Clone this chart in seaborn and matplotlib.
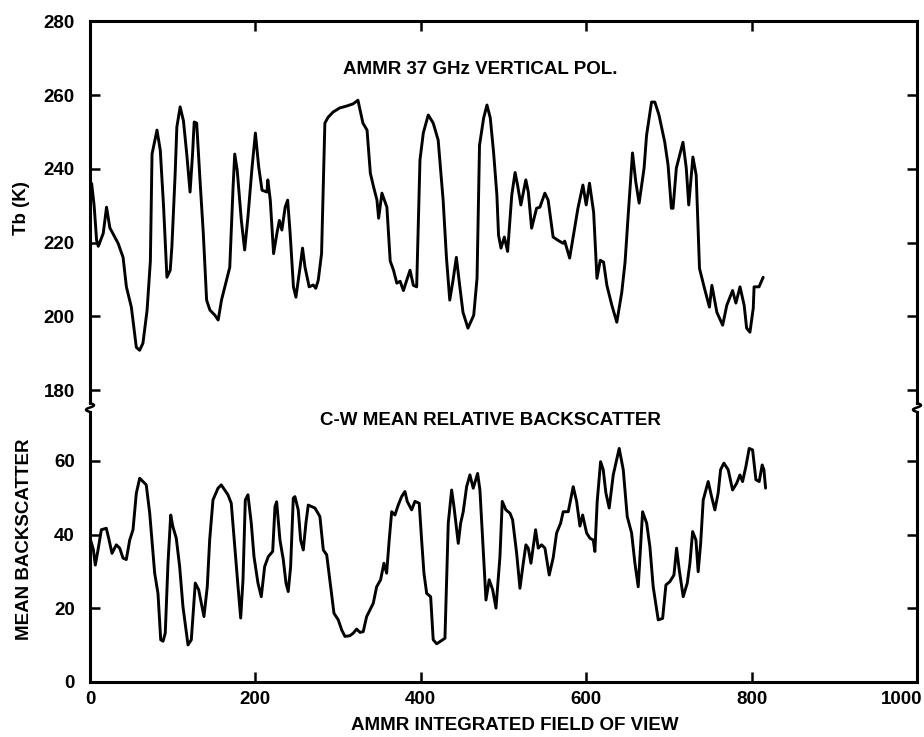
import numpy as np
import pandas as pd
import matplotlib
matplotlib.use("Agg")
import matplotlib.pyplot as plt
from matplotlib.lines import Line2D
from matplotlib.transforms import ScaledTranslation
import seaborn as sns

# ---- data ----
tb_x = [0, 2, 5, 8, 10, 16, 20, 24, 34, 40, 44, 50, 56, 60, 64, 69, 73, 75, 81, 85,
        89, 93, 97, 99, 103, 105, 109, 113, 117, 121, 124, 126, 129, 133, 137, 141, 145,
        151, 155, 159, 165, 169, 173, 175, 178, 183, 187, 191, 196, 200, 204, 208, 214,
        215, 218, 222, 226, 229, 232, 236, 239, 242, 246, 249, 254, 257, 260, 265, 270,
        273, 276, 280, 284, 288, 294, 302, 310, 318, 324, 330, 335, 339, 343, 347, 349,
        353, 359, 363, 367, 371, 375, 379, 383, 387, 391, 395, 399, 403, 409, 415, 421,
        427, 431, 435, 439, 443, 447, 451, 457, 464, 468, 471, 476, 480, 484, 488, 492,
        494, 497, 501, 505, 510, 514, 517, 521, 527, 530, 534, 540, 544, 550, 554, 560,
        566, 572, 574, 580, 584, 590, 596, 600, 604, 609, 613, 617, 621, 625, 631, 637,
        643, 647, 651, 656, 660, 664, 670, 673, 679, 683, 688, 695, 699, 703, 705, 709,
        717, 721, 724, 729, 733, 737, 743, 749, 752, 758, 765, 770, 777, 781, 786, 791,
        794, 798, 802, 803, 809, 814]
tb_val = [233, 236, 230, 220.6, 219, 222.5, 229.6, 224, 219.8, 216, 208, 202.5, 191.6,
          190.8, 192.7, 201.6, 215, 244, 250.5, 245, 229.6, 210.6, 212.5, 218.8, 238.8,
          251.3, 256.8, 253, 244, 233.7, 244, 252.7, 252.4, 237, 222.5, 204.4, 201.7,
          200.3, 199, 204.4, 209.8, 213.3, 235, 244, 239.6, 226, 218, 227, 240.5, 249.7,
          240.5, 234.2, 233.7, 237, 231.5, 217, 222.5, 226, 223.4, 229.6, 231.5, 222.5,
          208, 205.2, 213.3, 218.5, 213.3, 208, 208.5, 207.6, 209.8, 217, 252.4, 254,
          255.4, 256.5, 257, 257.6, 258.6, 252.4, 250.5, 238.8, 235, 231.5, 226.6, 233.4,
          229.6, 215, 212.5, 209, 209.5, 207, 209.8, 212.5, 208.4, 208, 242.4, 249.7,
          254.6, 252.4, 247.8, 231.5, 216, 204.4, 209.8, 216, 208.4, 201.1, 196.8, 200.3,
          210.3, 246.4, 253.8, 257.3, 253.8, 244.5, 232.9, 222, 218.5, 221.5, 217.6,
          232.9, 239, 235.6, 230.2, 237, 233.7, 223.9, 229.3, 229.6, 233.4, 231.5, 221.5,
          220.6, 219.8, 220.4, 215.8, 221.2, 229.3, 235.6, 230.2, 236.1, 228.2, 210.3,
          215.2, 214.7, 208.4, 203, 198.4, 206.5, 214.7, 228.2, 244.3, 236.4, 230.7,
          240.2, 249.1, 258.1, 258.1, 254.6, 247.2, 241, 229.3, 229.3, 240.2, 247.2,
          240.2, 230.2, 243.2, 238.3, 213, 207.6, 202.5, 208.4, 201.1, 197.6, 203, 207,
          203.6, 208, 203, 196.8, 195.7, 202.2, 208, 208, 210.6]

bs_x = [0, 4, 6.4, 9.7, 13.7, 19.7, 22.6, 26.6, 31.8, 35.9, 39.9, 43.9, 48, 52, 56, 60.1,
        68, 72.2, 78.2, 82.2, 85.5, 88.3, 91, 94.3, 97.6, 100.3, 104.3, 108.4, 112.4,
        118.5, 122.5, 127.3, 131.4, 137.8, 141.8, 144.7, 148.7, 154.8, 158.7, 166.8,
        170.8, 175, 179, 182.2, 185, 187.8, 191, 195, 198.3, 203.1, 207.1, 211.2, 215.6,
        220.9, 223.7, 225.7, 229.7, 233.7, 237, 239.7, 242.6, 245.8, 247.8, 251.8, 254.7,
        257.9, 261.1, 263.9, 272, 278, 282.1, 286.2, 291, 295, 300.2, 304.3, 308.3, 314.3,
        318.3, 322.4, 326.4, 330.4, 334.5, 342.5, 346.6, 351.4, 355.4, 358.7, 361.8,
        364.8, 368.7, 372.7, 376.8, 380.8, 383.6, 388.9, 392.9, 398.1, 401, 403.8, 407.1,
        411.9, 415, 419.2, 429.2, 433.2, 437.3, 440.1, 445.3, 448.2, 451.3, 455.4, 459.4,
        463.4, 468.7, 471.5, 475.5, 478.8, 482.7, 486.9, 490.9, 495.7, 498.5, 502.9,
        507.8, 511, 515.9, 519.9, 523.9, 527.1, 529.9, 533.2, 538.8, 542, 546.1, 550.1,
        555.3, 560.1, 564.2, 569.1, 572.2, 578.3, 584.3, 588.4, 592.4, 595.7, 600.5,
        604.5, 608.5, 610.5, 613.3, 617.4, 620.6, 623.8, 627.8, 632.7, 639.9, 644.8,
        649.6, 654.9, 658.9, 662.9, 668.2, 673.1, 677, 681, 687.1, 692.4, 696.4, 701.2,
        706.1, 709.3, 712.5, 717.3, 722.2, 725.4, 728.7, 732.7, 735.4, 738.4, 741.5,
        747.5, 751.6, 755.6, 759.6, 762.5, 766.5, 771.7, 777, 781.9, 785.9, 789.1, 793.1,
        797.1, 801.2, 805.2, 809.2, 812.8, 814.9, 816.9]
bs_val = [39, 36, 31.7, 35.8, 41.3, 41.7, 39, 34.9, 37.2, 36.3, 33.6, 33.2, 38.5, 41.3,
          51.2, 55.3, 53.5, 45.8, 29.5, 24, 11.4, 11, 13.2, 32.2, 45.3, 42.1, 39, 31.3,
          20.4, 10, 11.4, 26.8, 25, 17.7, 25.8, 38.5, 49.4, 52.6, 53.5, 50.8, 48.5, 36.7,
          25.8, 17.3, 27.7, 49.4, 50.8, 43.1, 34, 26.8, 23.1, 31.3, 34, 35.4, 47.6, 48.9,
          38.5, 33.2, 26.8, 24.5, 31.3, 49.9, 50.3, 46.7, 38.5, 35.8, 43.1, 48, 47.2,
          44.9, 35.8, 34.5, 25.8, 18.6, 16.8, 14.1, 12.3, 12.5, 13.2, 14.3, 13.4, 13.6,
          17.7, 21.3, 25.8, 27.7, 32.2, 29.5, 38.5, 46.2, 45.3, 48, 50.3, 51.7, 49, 46.7,
          49, 48.5, 38.5, 29.5, 24, 23.1, 11.4, 10.3, 11.8, 43.1, 52.1, 47.6, 37.6, 43.1,
          46.2, 53, 56.2, 52.6, 56.6, 52.1, 35.8, 22.2, 27.7, 25, 20, 34, 49, 46.7, 45.8,
          44, 34.9, 25.4, 32.2, 37.2, 36.3, 32.2, 41.3, 36.3, 37.2, 36.3, 29, 33.7, 40.4,
          43.1, 46.2, 46.2, 53, 49, 42.3, 45.3, 40.4, 39, 38.5, 35.4, 49, 59.8, 57.6,
          51.3, 47.2, 56.2, 63.4, 57.6, 44.9, 40.4, 32.2, 25.8, 46.2, 43.1, 36.7, 25.8,
          16.8, 17.2, 26.3, 27.2, 29, 36.3, 30.4, 23.1, 26.8, 32.2, 40.8, 38.5, 29.9,
          37.6, 49.4, 54.4, 50.3, 46.7, 51.3, 57.6, 59.4, 57.6, 52.1, 53.9, 56.2, 54.4,
          58.5, 63.4, 63, 54.9, 54.4, 58.9, 57.6, 52.6]

x_ticks = [0, 200, 400, 600, 800, 1000]
tb_ticks = [180, 200, 220, 240, 260, 280]
bs_ticks = [0, 20, 40, 60]

title_top = "AMMR 37 GHz VERTICAL POL."
title_bot = "C-W MEAN RELATIVE BACKSCATTER"
ylabel_top = "Tb (K)"
ylabel_bot = "MEAN BACKSCATTER"
xlabel = "AMMR INTEGRATED FIELD OF VIEW"

# ---- style ----
sns.set_style("ticks")
plt.rcParams["font.family"] = ["Liberation Sans", "DejaVu Sans"]
plt.rcParams["font.weight"] = "bold"
for key in ("text.color", "axes.labelcolor", "xtick.color", "ytick.color", "axes.edgecolor"):
    plt.rcParams[key] = "black"

FS = 13.5
W, H = 924, 737
fig = plt.figure(figsize=(W / 100, H / 100), dpi=100)

def fx(px):
    return px / W

def fy(py):
    return 1 - py / H

left_px, right_px = 90, 917
top_top, top_bot = 21.3, 403
bot_top, bot_bot = 412, 681.7

ax1 = fig.add_axes([fx(left_px), fy(top_bot), fx(right_px) - fx(left_px), (top_bot - top_top) / H])
ax2 = fig.add_axes([fx(left_px), fy(bot_bot), fx(right_px) - fx(left_px), (bot_bot - bot_top) / H])

df_tb = pd.DataFrame({"x": tb_x, "v": tb_val})
df_bs = pd.DataFrame({"x": bs_x, "v": bs_val})
sns.lineplot(data=df_tb, x="x", y="v", ax=ax1, color="black", lw=2.1, sort=False)
sns.lineplot(data=df_bs, x="x", y="v", ax=ax2, color="black", lw=2.1, sort=False)

for ax in (ax1, ax2):
    ax.set_xlim(0, 1000)
    ax.set_xlabel("")
    ax.set_ylabel("")
    for s in ax.spines.values():
        s.set_linewidth(2.2)
        s.set_color("black")
    ax.tick_params(direction="in", length=7.5, width=1.8, colors="black",
                   labelsize=FS, right=True, top=True)

ax1.set_ylim(176.5, 280)
ax1.set_yticks(tb_ticks)
ax1.set_xticks(x_ticks)
ax1.tick_params(labelbottom=False, bottom=False)
ax1.spines["bottom"].set_visible(False)

ax2.set_ylim(0, 73.3)
ax2.set_yticks(bs_ticks)
ax2.set_xticks(x_ticks)
ax2.tick_params(top=False)
ax2.spines["top"].set_visible(False)
ax2.tick_params(axis="x", pad=7)
ax1.tick_params(axis="y", pad=11)
ax2.tick_params(axis="y", pad=11)

# last x tick label ("1000") sits a little left of its tick, as in the reference
fig.canvas.draw()
last = ax2.get_xticklabels()[-1]
last.set_horizontalalignment("right")
last.set_transform(last.get_transform() + ScaledTranslation(5 / 100, 0, fig.dpi_scale_trans))

ax1.text(471.5, 266.8, title_top, ha="center", va="center", fontsize=FS)
ax2.text(484, 71.0, title_bot, ha="center", va="center", fontsize=FS)

fig.text(fx(22), fy(208), ylabel_top, rotation=90, ha="center", va="center", fontsize=FS)
fig.text(fx(25), fy(539), ylabel_bot, rotation=90, ha="center", va="center", fontsize=FS)
fig.text(fx(515), fy(725), xlabel, ha="center", va="center", fontsize=FS)

# axis-break squiggles joining the two panels
t = np.linspace(0, 1, 40)
for xp in (left_px, right_px):
    xs = xp + 4 * np.sin(2 * np.pi * t)
    ys = top_bot + (bot_top - top_bot) * t
    fig.add_artist(Line2D(fx(xs), fy(ys), transform=fig.transFigure,
                          color="black", lw=1.8))

fig.savefig("out.png", dpi=100)
